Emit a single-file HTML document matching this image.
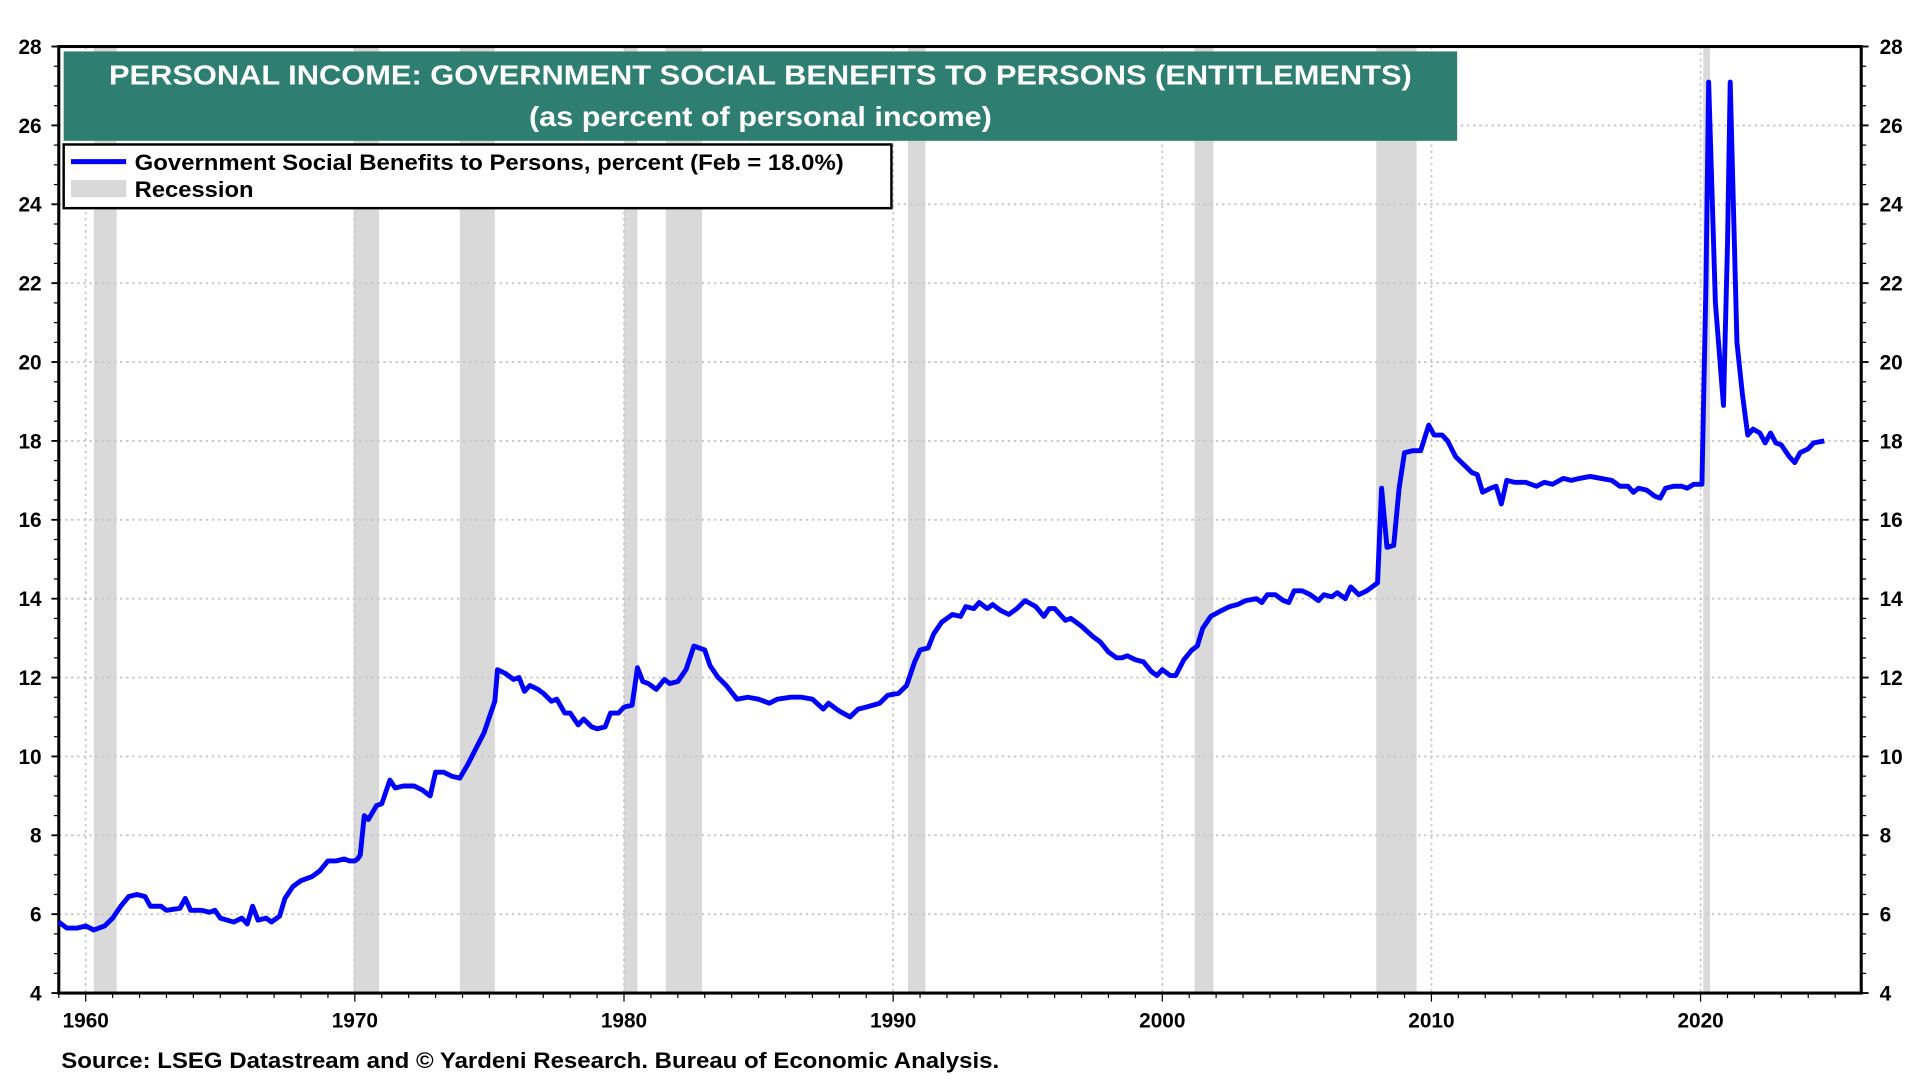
<!DOCTYPE html>
<html><head><meta charset="utf-8"><style>
html,body{margin:0;padding:0;background:#fff;width:1920px;height:1080px;overflow:hidden}
svg{display:block;font-family:"Liberation Sans",Arial,sans-serif}
</style></head><body>
<svg id="chart" width="1920" height="1080" viewBox="0 0 1568 882" preserveAspectRatio="none" xmlns="http://www.w3.org/2000/svg">
<g id="rec"></g>
<g id="grid"></g>
<g id="axes"></g>
<path id="line" fill="none" stroke="#0000ff" stroke-width="4" stroke-linejoin="round"></path>
<rect x="52" y="42" width="1138" height="73" fill="#2e7f72"/>
<text x="89" y="69" textLength="1064" lengthAdjust="spacingAndGlyphs" fill="#fff" font-size="23" font-weight="bold">PERSONAL INCOME: GOVERNMENT SOCIAL BENEFITS TO PERSONS (ENTITLEMENTS)</text>
<text x="432" y="103" textLength="378" lengthAdjust="spacingAndGlyphs" fill="#fff" font-size="23" font-weight="bold">(as percent of personal income)</text>
<g>
<rect x="52" y="118" width="676" height="52" fill="#fff" stroke="#000" stroke-width="2"/>
<line x1="58" y1="132" x2="103" y2="132" stroke="#0000ff" stroke-width="4"/>
<text x="110" y="139" textLength="579" lengthAdjust="spacingAndGlyphs" font-size="18" font-weight="bold">Government Social Benefits to Persons, percent (Feb = 18.0%)</text>
<rect x="58" y="147" width="45" height="14" fill="#d9d9d9"/>
<text x="110" y="161" textLength="97" lengthAdjust="spacingAndGlyphs" font-size="18" font-weight="bold">Recession</text>
</g>
<text x="50" y="872" textLength="766" lengthAdjust="spacingAndGlyphs" font-size="18" font-weight="bold">Source: LSEG Datastream and © Yardeni Research. Bureau of Economic Analysis.</text>
</svg>
<script>
const years=[1959.0,1959.3,1959.7,1960.0,1960.3,1960.7,1961.0,1961.3,1961.6,1961.9,1962.2,1962.4,1962.8,1963.0,1963.5,1963.7,1963.9,1964.3,1964.6,1964.8,1965.0,1965.5,1965.8,1966.0,1966.2,1966.4,1966.7,1966.9,1967.2,1967.4,1967.7,1968.0,1968.4,1968.7,1969.0,1969.3,1969.6,1969.8,1970.0,1970.1,1970.2,1970.35,1970.5,1970.8,1971.0,1971.3,1971.5,1971.8,1972.2,1972.5,1972.8,1973.0,1973.3,1973.6,1973.9,1974.2,1974.5,1974.8,1975.0,1975.2,1975.3,1975.6,1975.9,1976.1,1976.3,1976.5,1976.8,1977.0,1977.3,1977.5,1977.8,1978.0,1978.3,1978.5,1978.8,1979.0,1979.3,1979.5,1979.8,1980.0,1980.3,1980.5,1980.7,1980.9,1981.2,1981.5,1981.7,1982.0,1982.3,1982.6,1983.0,1983.2,1983.5,1983.8,1984.2,1984.6,1985.0,1985.4,1985.7,1986.2,1986.6,1987.0,1987.4,1987.6,1988.0,1988.4,1988.7,1989.0,1989.5,1989.8,1990.2,1990.5,1990.8,1991.0,1991.3,1991.5,1991.8,1992.2,1992.5,1992.7,1993.0,1993.2,1993.5,1993.7,1994.0,1994.3,1994.6,1994.9,1995.3,1995.6,1995.8,1996.0,1996.4,1996.6,1997.0,1997.4,1997.7,1998.0,1998.3,1998.5,1998.7,1999.0,1999.3,1999.6,1999.8,2000.0,2000.3,2000.5,2000.8,2001.1,2001.3,2001.5,2001.8,2002.2,2002.5,2002.8,2003.1,2003.5,2003.7,2003.9,2004.2,2004.5,2004.7,2004.9,2005.2,2005.5,2005.8,2006.0,2006.3,2006.5,2006.8,2007.0,2007.3,2007.6,2008.0,2008.15,2008.35,2008.6,2008.8,2009.0,2009.3,2009.6,2009.9,2010.1,2010.4,2010.6,2010.9,2011.2,2011.5,2011.7,2011.9,2012.2,2012.4,2012.6,2012.8,2013.1,2013.5,2013.9,2014.2,2014.5,2014.9,2015.2,2015.5,2015.9,2016.3,2016.7,2017.0,2017.3,2017.5,2017.7,2018.0,2018.3,2018.5,2018.7,2019.0,2019.3,2019.5,2019.75,2020.05,2020.2,2020.3,2020.55,2020.85,2021.0,2021.1,2021.35,2021.55,2021.75,2021.95,2022.2,2022.4,2022.6,2022.8,2023.0,2023.3,2023.5,2023.7,2024.0,2024.2,2024.6];
const values=[5.8,5.65,5.65,5.7,5.6,5.7,5.9,6.2,6.45,6.5,6.45,6.2,6.2,6.1,6.15,6.4,6.1,6.1,6.05,6.1,5.9,5.8,5.9,5.75,6.2,5.85,5.9,5.8,5.95,6.4,6.7,6.85,6.95,7.1,7.35,7.35,7.4,7.35,7.35,7.4,7.5,8.5,8.4,8.75,8.8,9.4,9.2,9.25,9.25,9.15,9.0,9.6,9.6,9.5,9.45,9.8,10.2,10.6,11.0,11.4,12.2,12.1,11.95,12.0,11.65,11.8,11.7,11.6,11.4,11.45,11.1,11.1,10.8,10.95,10.75,10.7,10.75,11.1,11.1,11.25,11.3,12.25,11.9,11.85,11.7,11.95,11.85,11.9,12.2,12.8,12.7,12.3,12.0,11.8,11.45,11.5,11.45,11.35,11.45,11.5,11.5,11.45,11.2,11.35,11.15,11.0,11.2,11.25,11.35,11.55,11.6,11.8,12.4,12.7,12.75,13.1,13.4,13.6,13.55,13.8,13.75,13.9,13.75,13.85,13.7,13.6,13.75,13.95,13.8,13.55,13.75,13.75,13.45,13.5,13.3,13.05,12.9,12.65,12.5,12.5,12.55,12.45,12.4,12.15,12.05,12.2,12.05,12.05,12.45,12.7,12.8,13.25,13.55,13.7,13.8,13.85,13.95,14.0,13.9,14.1,14.1,13.95,13.9,14.2,14.2,14.1,13.95,14.1,14.05,14.15,14.0,14.3,14.1,14.2,14.4,16.8,15.3,15.35,16.8,17.7,17.75,17.75,18.4,18.15,18.15,18.0,17.6,17.4,17.2,17.15,16.7,16.8,16.85,16.4,17.0,16.95,16.95,16.85,16.95,16.9,17.05,17.0,17.05,17.1,17.05,17.0,16.85,16.85,16.7,16.8,16.75,16.6,16.55,16.8,16.85,16.85,16.8,16.9,16.9,22.0,27.1,21.5,18.9,23.0,27.1,20.5,19.2,18.15,18.3,18.2,17.95,18.2,17.95,17.9,17.6,17.45,17.7,17.8,17.95,18.0];
const recStart=[1960.3,1969.95,1973.9,1980.0,1981.55,1990.55,2001.2,2007.95,2020.1];
const recEnd=[1961.15,1970.9,1975.2,1980.5,1982.9,1991.2,2001.9,2009.45,2020.35];
const yTicks=[4,6,8,10,12,14,16,18,20,22,24,26,28];
const xTicks=[1960,1970,1980,1990,2000,2010,2020];
const L=48,R=1520,T=38,B=811;
const xS=y=>70+(y-1960)*21.98;
const yS=v=>B-(v-4)*(B-T)/24;
const NS="http://www.w3.org/2000/svg";
function mk(p,tag,attrs){const e=document.createElementNS(NS,tag);for(const k in attrs)e.setAttribute(k,attrs[k]);p.appendChild(e);return e;}
const rec=document.getElementById('rec'),grid=document.getElementById('grid'),axes=document.getElementById('axes');
recStart.forEach((s,i)=>{const r=mk(rec,'rect',{x:xS(s),y:T,width:xS(recEnd[i])-xS(s),height:B-T,fill:'#d9d9d9'});

});
yTicks.forEach(v=>{
 if(v>4&&v<28){const g=mk(grid,'line',{x1:L,x2:R,y1:yS(v),y2:yS(v),stroke:'#c8c8c8','stroke-width':1.5,'stroke-dasharray':'2 3'});
 
 }
 const t1=mk(axes,'text',{x:34,y:yS(v)+6,'text-anchor':'end','font-size':17,'font-weight':'bold'});t1.textContent=v;
 
 
 const t2=mk(axes,'text',{x:1535,y:yS(v)+6,'font-size':17,'font-weight':'bold'});t2.textContent=v;
 
 
 mk(axes,'line',{x1:L-6,x2:L,y1:yS(v),y2:yS(v),stroke:'#000','stroke-width':1.5});
 mk(axes,'line',{x1:R,x2:R+6,y1:yS(v),y2:yS(v),stroke:'#000','stroke-width':1.5});
});
for(let v=4;v<28;v+=0.5){if(v%2){mk(axes,'line',{x1:L-4,x2:L,y1:yS(v),y2:yS(v),stroke:'#000','stroke-width':1});mk(axes,'line',{x1:R,x2:R+4,y1:yS(v),y2:yS(v),stroke:'#000','stroke-width':1});}}
xTicks.forEach(y=>{
 const g=mk(grid,'line',{x1:xS(y),x2:xS(y),y1:T,y2:B,stroke:'#c8c8c8','stroke-width':1.5,'stroke-dasharray':'2 3'});
 
 
 const t=mk(axes,'text',{x:xS(y),y:839,'text-anchor':'middle','font-size':17,'font-weight':'bold'});t.textContent=y;
 
 
});
for(let y=1959;y<=2025;y++){mk(axes,'line',{x1:xS(y),x2:xS(y),y1:B,y2:B+(y%10?4:7),stroke:'#000','stroke-width':1});}
mk(axes,'rect',{x:L,y:T,width:R-L,height:B-T,fill:'none',stroke:'#000','stroke-width':2.5});
document.getElementById('line').setAttribute('d',years.map((y,i)=>(i?'L':'M')+xS(y).toFixed(1)+','+yS(values[i]).toFixed(1)).join(''));
</script>
</body></html>
